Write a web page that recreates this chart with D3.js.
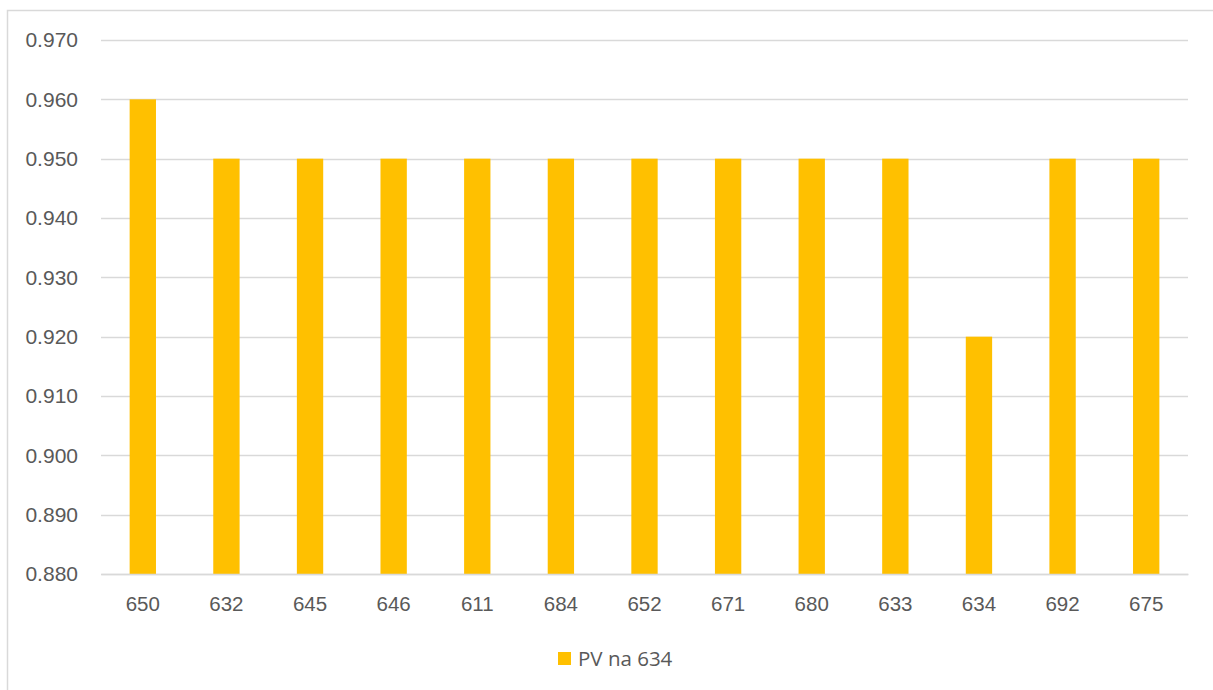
<!DOCTYPE html>
<html>
<head>
<meta charset="utf-8">
<script src="https://cdn.jsdelivr.net/npm/d3@7"></script>
<style>
  body { margin: 0; background: #fff; }
  svg { display: block; font-family: "Open Sans", "Noto Sans", sans-serif; }
  .tick text { fill: #595959; }
</style>
</head>
<body>
<svg id="chart"></svg>
<script>
// data
var categories = ["650", "632", "645", "646", "611", "684", "652", "671", "680", "633", "634", "692", "675"];
var pvValues = [0.960, 0.950, 0.950, 0.950, 0.950, 0.950, 0.950, 0.950, 0.950, 0.950, 0.920, 0.950, 0.950];
var yTicks = [0.880, 0.890, 0.900, 0.910, 0.920, 0.930, 0.940, 0.950, 0.960, 0.970];
var seriesName = "PV na 634";

var width = 1213, height = 690;
var margin = {top: 40, right: 25, bottom: 116, left: 101};

var svg = d3.select("#chart")
    .attr("width", width)
    .attr("height", height);

// chart border (only top/left visible in the crop)
svg.append("rect")
    .attr("x", 7.5).attr("y", 10.5)
    .attr("width", width + 20).attr("height", height + 20)
    .attr("fill", "none")
    .attr("stroke", "#d9d9d9")
    .attr("stroke-width", 1.5);

var x = d3.scaleBand()
    .domain(categories)
    .range([margin.left, width - margin.right])
    .paddingInner(0.685)
    .paddingOuter(0.685 / 2);

var y = d3.scaleLinear()
    .domain([0.880, 0.970])
    .range([height - margin.bottom, margin.top]);

// gridlines
svg.append("g")
  .selectAll("line")
  .data(yTicks)
  .enter()
    .append("line")
    .attr("x1", margin.left)
    .attr("x2", width - margin.right)
    .attr("y1", d => Math.round(y(d)) + 0.5)
    .attr("y2", d => Math.round(y(d)) + 0.5)
    .attr("stroke", "#d9d9d9")
    .attr("stroke-width", 1.3);

// bars
svg.append("g")
  .selectAll("rect")
  .data(pvValues)
  .enter()
    .append("rect")
    .attr("x", (d, i) => x(categories[i]))
    .attr("width", x.bandwidth())
    .attr("y", d => y(d))
    .attr("height", d => y(0.880) - y(d))
    .attr("fill", "#ffc000");

// y axis labels
var yAxis = svg.append("g")
    .attr("transform", `translate(${margin.left},0)`)
    .call(d3.axisLeft(y).tickValues(yTicks).tickFormat(d3.format(".3f")).tickSize(0).tickPadding(23));
yAxis.select(".domain").remove();
yAxis.selectAll("text").style("font-size", "21px");

// x axis labels
var xAxis = svg.append("g")
    .attr("transform", `translate(0,${height - margin.bottom})`)
    .call(d3.axisBottom(x).tickSize(0).tickPadding(22));
xAxis.select(".domain")
    .attr("stroke", "#d9d9d9")
    .attr("stroke-width", 1.5);
xAxis.selectAll("text").style("font-size", "20.5px");

// legend
var legend = svg.append("g").attr("transform", "translate(558,652)");
legend.append("rect")
    .attr("width", 13).attr("height", 13)
    .attr("fill", "#ffc000");
legend.append("text")
    .attr("x", 20).attr("y", 7)
    .attr("dy", "0.35em")
    .attr("fill", "#595959")
    .style("font-size", "20.5px")
    .text(seriesName);
</script>
</body>
</html>
